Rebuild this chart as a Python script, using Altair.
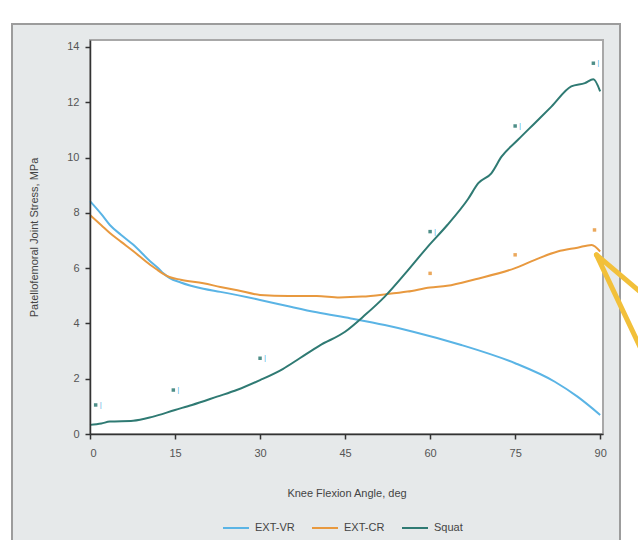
import altair as alt
import pandas as pd

# ---- data ----
vr_x = [0, 2, 3.5, 5.5, 7.6, 10.6, 12, 13, 14, 16, 20, 23, 30, 35, 40, 46, 52, 57, 65.5, 75, 82, 86, 90]
vr_y = [8.42, 7.95, 7.56, 7.2, 6.85, 6.25, 6.0, 5.8, 5.65, 5.48, 5.25, 5.14, 4.85, 4.62, 4.4, 4.18, 3.94, 3.7, 3.22, 2.56, 1.89, 1.35, 0.69]

cr_x = [0, 2, 3.5, 5.5, 7.6, 10.6, 12, 13, 14, 16, 20, 23, 26, 30, 35, 40, 44, 48, 52, 56, 60, 63, 68, 75, 78.5, 82.5, 86, 88.5, 90]
cr_y = [7.92, 7.55, 7.27, 6.95, 6.62, 6.12, 5.92, 5.78, 5.68, 5.58, 5.45, 5.32, 5.2, 5.03, 4.99, 4.99, 4.94, 4.97, 5.05, 5.15, 5.3, 5.36, 5.6, 6.0, 6.3, 6.6, 6.74, 6.84, 6.6]

sq_x = [0, 2, 3.5, 7.6, 11, 15, 18, 22.4, 26, 30, 34, 37, 40.5, 45, 48.5, 52, 56, 59.6, 63, 66.7, 68.5, 70.8, 72.6, 75.5, 78.5, 81.4, 84.9, 87.3, 88.8, 90]
sq_y = [0.33, 0.38, 0.45, 0.48, 0.62, 0.87, 1.05, 1.35, 1.6, 1.95, 2.35, 2.74, 3.2, 3.7, 4.3, 4.97, 5.9, 6.78, 7.55, 8.5, 9.07, 9.43, 10.03, 10.64, 11.25, 11.84, 12.57, 12.69, 12.83, 12.39]

sq_mark_x = [1, 14.7, 30, 60, 75, 88.8]
sq_mark_y = [1.05, 1.59, 2.74, 7.32, 11.14, 13.41]
cr_mark_x = [60, 75, 89]
cr_mark_y = [5.81, 6.48, 7.38]

arrow_x = [89.35, 100, 89.35, 100]
arrow_y = [6.48, 1.86, 6.48, 4.63]
arrow_id = ["a", "a", "b", "b"]

series = ["EXT-VR", "EXT-CR", "Squat"]
colors = ["#5ab4e5", "#e8993f", "#2f7a73"]
x_ticks = [0, 15, 30, 45, 60, 75, 90]
y_ticks = [0, 2, 4, 6, 8, 10, 12, 14]

FONT = "Liberation Sans Narrow, Liberation Sans, Arial"

lines_df = pd.concat([
    pd.DataFrame({"x": vr_x, "y": vr_y, "s": "EXT-VR"}),
    pd.DataFrame({"x": cr_x, "y": cr_y, "s": "EXT-CR"}),
    pd.DataFrame({"x": sq_x, "y": sq_y, "s": "Squat"}),
])
sqm = pd.DataFrame({"x": sq_mark_x, "y": sq_mark_y})
crm = pd.DataFrame({"x": cr_mark_x, "y": cr_mark_y})
arr = pd.DataFrame({"x": arrow_x, "y": arrow_y, "id": arrow_id})
one = pd.DataFrame({"a": [0]})

xs = alt.Scale(domain=[0, 90.5], nice=False)
ys = alt.Scale(domain=[0, 14.25], nice=False)

# decoration: grey panel and white plot area
panel = alt.Chart(one).mark_rect(fill="#e6e9ea", stroke="#9c9c9c", strokeWidth=2).encode(
    x=alt.value(-78), x2=alt.value(530), y=alt.value(-16), y2=alt.value(520))
plotbg = alt.Chart(one).mark_rect(fill="white", stroke="#a8a8a8", strokeWidth=2).encode(
    x=alt.value(0), x2=alt.value(513), y=alt.value(0), y2=alt.value(394))

lines = alt.Chart(lines_df).mark_line(strokeWidth=2, interpolate="monotone").encode(
    x=alt.X("x:Q", scale=xs, axis=alt.Axis(values=x_ticks, title="Knee Flexion Angle, deg", grid=False,
                                           titlePadding=29, labelPadding=8, zindex=2)),
    y=alt.Y("y:Q", scale=ys, axis=alt.Axis(values=y_ticks, title="Patellofemoral Joint Stress, MPa", grid=False,
                                           titlePadding=27, labelPadding=6, zindex=2)),
    color=alt.Color("s:N", scale=alt.Scale(domain=series, range=colors), sort=series,
                    legend=alt.Legend(title=None, orient="none", direction="horizontal",
                                      legendX=132, legendY=474, symbolType="stroke",
                                      symbolSize=676, symbolStrokeWidth=2, labelFont=FONT,
                                      labelFontSize=11, labelColor="#444", columnPadding=13,
                                      labelOffset=5)),
    detail="s:N",
)

sq_pts = alt.Chart(sqm).mark_square(size=12, color="#2f7a73", opacity=0.85).encode(
    x=alt.X("x:Q", scale=xs), y=alt.Y("y:Q", scale=ys))
sq_bar = alt.Chart(sqm).mark_text(text="|", fontSize=8, dx=5, color="#5ab4e5").encode(
    x=alt.X("x:Q", scale=xs), y=alt.Y("y:Q", scale=ys))
cr_pts = alt.Chart(crm).mark_square(size=12, color="#e8993f", opacity=0.85).encode(
    x=alt.X("x:Q", scale=xs), y=alt.Y("y:Q", scale=ys))

arrow = alt.Chart(arr).mark_line(color="#f2c03a", strokeWidth=5, strokeCap="round").encode(
    x=alt.X("x:Q", scale=xs), y=alt.Y("y:Q", scale=ys), detail="id:N")

chart = alt.layer(panel, plotbg, lines, sq_pts, sq_bar, cr_pts, arrow).properties(
    width=513, height=394, autosize=alt.AutoSizeParams(type="none"),
    padding={"left": 90, "top": 40, "right": 35, "bottom": 106},
    background="white",
).configure_view(stroke=None).configure_axis(
    domainColor="#333", tickColor="#333", domainWidth=1.5, tickWidth=1.5, tickSize=5,
    labelFont=FONT, labelFontSize=11, labelColor="#555",
    titleFont=FONT, titleFontSize=11, titleColor="#444", titleFontWeight="normal",
)

chart.save("out.html", embed_options={"renderer": "svg", "actions": False})
